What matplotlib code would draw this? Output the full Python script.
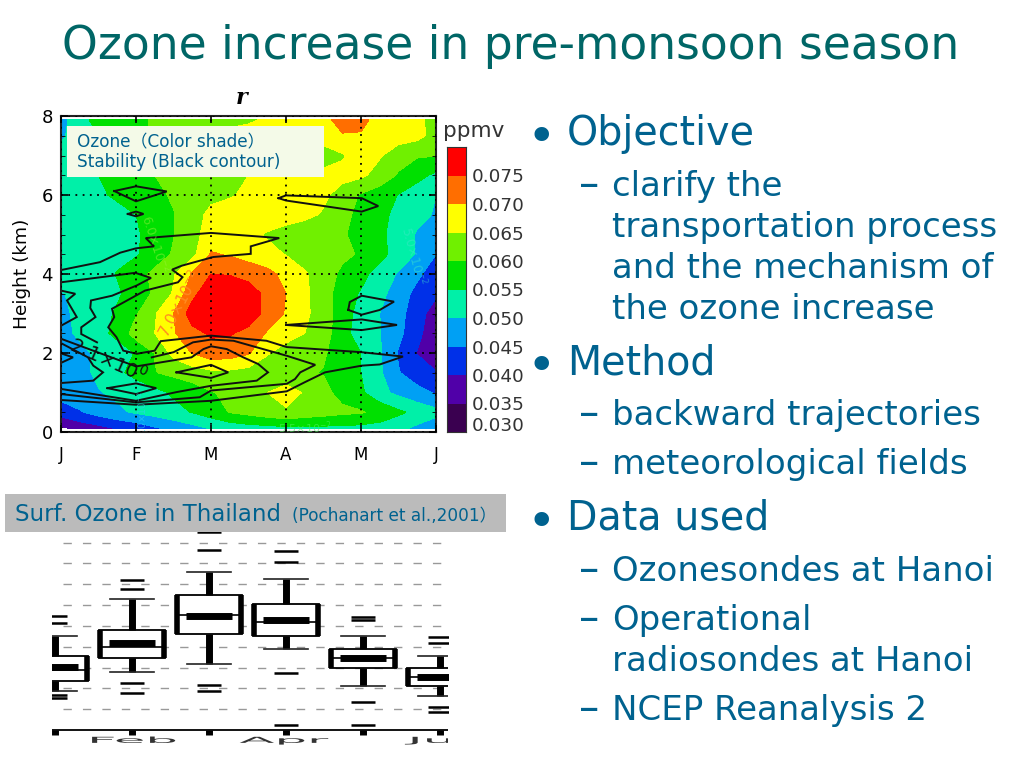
import numpy as np
import matplotlib
matplotlib.use("Agg")
import matplotlib.pyplot as plt
from matplotlib.colors import ListedColormap, BoundaryNorm
from matplotlib.patches import Rectangle
from matplotlib.patheffects import AbstractPathEffect
from matplotlib.transforms import Affine2D

W, H = 1024, 768
BLUE = "#00628F"
TEAL = "#006666"

# ozone shading (ppmv), columns every quarter of the month axis
months = ["J", "F", "M", "A", "M", "J"]
grid_x = [0, .25, .5, .75, 1, 1.25, 1.5, 1.75, 2, 2.25, 2.5, 2.75, 3, 3.25, 3.5, 3.75, 4, 4.25, 4.5, 4.75, 5]
heights = [0.1, 0.5, 1, 1.5, 2, 2.5, 3, 3.5, 4, 4.5, 5, 5.5, 6, 6.5, 7, 7.5, 7.9]
ozone = [
    [.034, .037, .0385, .0405, .042, .0445, .0465, .0485, .0505, .052, .053, .0535, .054, .054, .054, .054, .0535, .053, .0515, .049, .047],
    [.0425, .0445, .047, .049, .0507, .052, .0535, .0552, .0575, .0602, .0615, .063, .0642, .063, .062, .061, .0605, .0585, .056, .0535, .0515],
    [.047, .0485, .0497, .051, .052, .0535, .0557, .0575, .0597, .061, .0625, .065, .0675, .0645, .0612, .0585, .0558, .0515, .0487, .0465, .0445],
    [.046, .0485, .051, .054, .0565, .0598, .0612, .0625, .0638, .0638, .063, .0618, .061, .0605, .0598, .0575, .055, .0508, .0453, .0425, .0402],
    [.0445, .048, .0515, .0535, .0552, .0602, .0665, .0702, .073, .0725, .0705, .0655, .0625, .0615, .0605, .0578, .055, .0505, .0445, .0398, .0375],
    [.0475, .0515, .054, .0558, .0625, .065, .0695, .0735, .0757, .0755, .0735, .0695, .0675, .065, .0625, .0565, .053, .0502, .0465, .041, .0375],
    [.048, .052, .0535, .0555, .0595, .0645, .070, .0775, .080, .081, .078, .0735, .0695, .066, .0625, .0575, .053, .050, .0465, .0425, .037],
    [.0495, .052, .0532, .0545, .0565, .061, .0655, .0735, .079, .081, .078, .0735, .070, .066, .0622, .0575, .0545, .0515, .0475, .0435, .041],
    [.0525, .053, .0535, .0552, .058, .0612, .0645, .0705, .075, .0745, .073, .0715, .0685, .0655, .0625, .059, .0565, .053, .0495, .046, .0425],
    [.053, .053, .0535, .054, .0545, .0575, .0605, .0635, .0705, .0695, .068, .0665, .0648, .063, .0615, .061, .0595, .0565, .053, .0495, .045],
    [.053, .053, .0535, .054, .0545, .0565, .0598, .0635, .067, .068, .0665, .0645, .0632, .062, .061, .0605, .0585, .056, .053, .0495, .047],
    [.053, .053, .0535, .054, .055, .0565, .0598, .0625, .0665, .0675, .0685, .068, .067, .0662, .0645, .061, .059, .0565, .0535, .0515, .0495],
    [.0535, .054, .0545, .0555, .0575, .059, .0605, .062, .0635, .0645, .066, .067, .0675, .067, .066, .063, .0595, .0575, .0548, .0525, .050],
    [.054, .054, .055, .0565, .0585, .06, .061, .062, .063, .064, .065, .0655, .066, .0665, .067, .0665, .066, .063, .0595, .0565, .054],
    [.052, .054, .055, .0565, .0585, .06, .061, .062, .063, .064, .065, .066, .0665, .0655, .0615, .0645, .0672, .0655, .062, .0605, .0602],
    [.049, .053, .055, .057, .059, .0605, .062, .0635, .0645, .0655, .0665, .067, .0675, .068, .0685, .0695, .0695, .068, .0675, .0665, .063],
    [.048, .0535, .0565, .058, .059, .0605, .062, .063, .064, .0645, .0645, .0655, .0665, .067, .068, .0725, .0715, .068, .0665, .066, .0635],
]
levels = [.030, .035, .040, .045, .050, .055, .060, .065, .070, .075, .085]
bar_edges = [.030, .035, .040, .045, .050, .055, .060, .065, .070, .075, .080]
level_colors = ["#3A0050", "#5000A8", "#0030E8", "#00A0F4", "#00F0A8",
                "#00E000", "#70F000", "#FFFF00", "#FF6E00", "#FF0000"]

# stability contours, month position / km
line1_x = [0, .52, .79, 1.0, 1.24, 1.13, 2.0, 2.91, 2.53, 2.53, 2.03, 1.61, 1.48, 1.62, 1.56, 1.12, .68, .71, .63,
           .74, .83, 1.01, 1.25, 1.33, 2.0, 2.74, 3.01, 4.01, 4.56, 4.25, 4.01, 3.52, 3.25, 3.01, 2.0, 1.0, 0]
line1_y = [4.10, 4.30, 4.54, 4.65, 4.70, 4.91, 5.04, 4.91, 4.70, 4.51, 4.43, 4.21, 4.11, 3.92, 3.79, 3.58, 3.12, 2.91, 2.65,
           2.40, 2.06, 1.98, 2.06, 2.30, 2.44, 2.31, 2.15, 2.02, 1.91, 1.71, 1.68, 1.51, 1.26, 1.03, .79, .69, .81]
line2a_x = [0, .99, 1.2, 1.01, .68, .40, .39, .46, .27, .27, .48]
line2a_y = [3.79, 4.03, 3.90, 3.71, 3.45, 3.33, 3.14, 2.91, 2.65, 2.48, 2.27]
line2b_x = [1.21, 1.50, 1.76, 2.0, 2.30, 3.01, 3.39, 3.19, 3.12, 3.01, 2.0, 1.85, 1.0, 0]
line2b_y = [1.89, 2.02, 2.27, 2.34, 2.31, 1.93, 1.70, 1.51, 1.34, 1.22, 1.05, .88, .75, .96]
line3_x = [0, 1.0, 1.74, 1.90, 2.0, 2.21, 2.43, 2.63, 2.76, 2.61, 2.0, 1.54, 1.0, 0]
line3_y = [2.36, 1.66, 1.89, 2.10, 2.17, 2.10, 1.89, 1.72, 1.51, 1.30, 1.17, 1.01, .79, 1.09]
line4_x = [0, .36, .43, .56, .43, 0]
line4_y = [2.25, 1.89, 1.68, 1.51, 1.30, 1.24]
line5_x = [0, .19, .08, .21, 0]
line5_y = [3.58, 3.50, 3.33, 2.91, 2.69]
line6_x = [0, .16, 0]
line6_y = [1.99, 1.89, 1.75]
loop1_x = [.71, 1.0, 1.41, 1.0, .71]
loop1_y = [6.10, 6.22, 6.09, 5.84, 6.10]
loop2_x = [.89, 1, 1.1, 1, .89]
loop2_y = [5.52, 5.58, 5.52, 5.46, 5.52]
loop3_x = [2.9, 3, 4.01, 4.23, 4.01, 3.0, 2.9]
loop3_y = [5.92, 5.99, 5.92, 5.72, 5.58, 5.86, 5.92]
loop4_x = [1.54, 2, 2.23, 2, 1.54]
loop4_y = [1.51, 1.70, 1.51, 1.37, 1.51]
loop5_x = [.62, 1, 1.27, 1, .62]
loop5_y = [1.11, 1.23, 1.11, .96, 1.11]
loop6_x = [3, 4.01, 4.48, 4.01, 3]
loop6_y = [2.71, 2.85, 2.71, 2.58, 2.71]
loop7_x = [3.83, 3.85, 4.01, 4.44, 4.25, 4.01, 3.83]
loop7_y = [3.09, 3.29, 3.45, 3.30, 3.09, 2.97, 3.09]
contour_lines = [(line1_x, line1_y), (line2a_x, line2a_y), (line2b_x, line2b_y), (line3_x, line3_y),
                 (line4_x, line4_y), (line5_x, line5_y), (line6_x, line6_y), (loop1_x, loop1_y),
                 (loop2_x, loop2_y), (loop3_x, loop3_y), (loop4_x, loop4_y), (loop5_x, loop5_y),
                 (loop6_x, loop6_y), (loop7_x, loop7_y)]

# surface ozone box plot
box_names = ["Jan", "Feb", "Mar", "Apr", "May", "Jun"]
q1 = [23.7, 34.4, 45.9, 45.1, 29.9, 21.3]
q3 = [35.7, 48.0, 64.8, 60.3, 39.0, 29.9]
medians = [28.8, 40.0, 55.0, 51.7, 34.4, 25.6]
means = [30.4, 41.9, 54.9, 53.0, 34.4, 25.6]
whisker_lo = [18.9, 28.0, 31.8, 39.0, 21.3, 16.3]
whisker_hi = [45.3, 62.7, 75.7, 72.5, 45.3, 35.7]
fliers = [[51.2, 54.7, 16.8, 15.2], [67.7, 72.0, 22.4, 17.6], [86.4, 94.9, 21.6, 18.7],
          [80.8, 85.9, 27.5, 2.4], [52.8, 54.4, 13.3, 2.4], [41.9, 44.8, 10.9, 8.8]]
box_grid = [10, 20, 30, 40, 50, 60, 70, 80, 90]
box_ticks = [1, 3, 5]
box_tick_labels = ["Feb", "Apr", "Jul"]


class Squash(AbstractPathEffect):
    # the scanned axis labels in the picture are stretched flat
    def __init__(self, sx, sy):
        super().__init__()
        self.sx, self.sy = sx, sy

    def draw_path(self, renderer, gc, tpath, affine, rgbFace=None):
        w = tpath.get_extents().width
        t = Affine2D().translate(-w / 2, 0).scale(self.sx, self.sy).translate(w / 2, 0)
        renderer.draw_path(gc, tpath, t + affine, rgbFace)


def px_axes(left, top, right, bottom):
    return fig.add_axes([left / W, 1 - bottom / H, (right - left) / W, (bottom - top) / H])


def put(x, y, s, **kw):
    fig.text(x / W, 1 - y / H, s, **kw)


plt.rcParams["font.family"] = ["DejaVu Sans", "Noto Sans CJK JP"]
fig = plt.figure(figsize=(W / 100, H / 100), dpi=100)

# --- contour panel
ax = px_axes(61, 116, 436, 432)
cmap = ListedColormap(level_colors)
norm = BoundaryNorm(levels, cmap.N)
ax.contourf(grid_x, heights, ozone, levels=levels, cmap=cmap, norm=norm)
for lx, ly in contour_lines:
    ax.plot(lx, ly, color="#111111", lw=1.4, solid_joinstyle="miter")
ax.set_xlim(0, 5)
ax.set_ylim(0, 8)
ax.set_xticks(range(6))
ax.set_xticklabels(months, fontsize=12)
ax.set_yticks([0, 2, 4, 6, 8])
ax.set_yticks(np.arange(0, 8.5, 0.5), minor=True)
ax.tick_params(axis="y", labelsize=13, direction="in", length=5, width=1.2, right=True, pad=6)
ax.tick_params(axis="y", which="minor", direction="in", length=3, right=True)
ax.tick_params(axis="x", direction="in", length=5, width=1.2, top=True, pad=10)
ax.grid(True, color="black", ls=(0, (1, 3)), lw=1.3)
ax.set_axisbelow(False)
for s in ax.spines.values():
    s.set_linewidth(1.5)
    s.set_color("#222222")
ax.set_ylabel("Height (km)", fontsize=13.3, labelpad=7)

ax.text(0.63, 1.82, r"$2.1{\times}10^{0}$", fontsize=14, rotation=-24, ha="center", va="center", color="#111111")
ax.text(1.58, 3.25, r"$7.0{\times}10^{-2}$", fontsize=11, rotation=62, ha="center", va="center", color="#FF8A20")
ax.text(1.25, 4.75, r"$6.0{\times}10^{-2}$", fontsize=9, rotation=-72, ha="center", va="center", color="#A0F040", alpha=0.5)
ax.text(4.7, 4.45, r"$5.0{\times}10^{-2}$", fontsize=9, rotation=-75, ha="center", va="center", color="#40E8C8", alpha=0.5)
ax.text(1.08, 0.45, r"$4.0{\times}10^{-2}$", fontsize=7, rotation=90, ha="center", va="center", color="#30D0F0", alpha=0.6, clip_on=True)
ax.text(3.25, 0.12, r"$5.5{\times}10^{-2}$", fontsize=8, ha="center", va="center", color="#50F060", alpha=0.6)

fig.patches.append(Rectangle((67 / W, 1 - 177 / H), 257 / W, 51 / H, transform=fig.transFigure,
                             facecolor="#F4FAE8", edgecolor="none", zorder=5))
put(77, 147, "Ozone（Color shade）", fontsize=12.2, color=BLUE, zorder=6)
put(77, 167, "Stability (Black contour)", fontsize=12.2, color=BLUE, zorder=6)
put(242, 104, "r", fontsize=16, color="black", family="DejaVu Serif", style="italic", weight="bold", ha="center")

# --- colour bar
cax = px_axes(447, 147, 466, 432)
cax.pcolormesh([0, 1], bar_edges, np.array(bar_edges[:-1]).reshape(-1, 1) + 0.001, cmap=cmap, norm=norm)
cax.set_xticks([])
cax.set_yticks([])
for s in cax.spines.values():
    s.set_linewidth(0.8)
    s.set_color("#333333")
put(443, 137, "ppmv", fontsize=15.5, color="#333333")
for lv in bar_edges[1:-1]:
    cax.text(1.3, lv, f"{lv:.3f}", fontsize=13.2, color="#333333", va="center_baseline", ha="left")
cax.text(1.3, bar_edges[0] - 0.0005, f"{bar_edges[0]:.3f}", fontsize=13.2, color="#333333", va="bottom", ha="left")

# --- box plot panel
bx = px_axes(52.3, 532.3, 447.7, 746.7)
stats = []
for i in range(6):
    stats.append({"label": box_names[i], "q1": q1[i], "q3": q3[i], "med": medians[i], "mean": means[i],
                  "whislo": whisker_lo[i], "whishi": whisker_hi[i], "fliers": fliers[i]})
pos = np.arange(6)
bx.bxp(stats, positions=pos, widths=0.87, showmeans=True, manage_ticks=False, patch_artist=True,
       boxprops=dict(facecolor="white", edgecolor="black", lw=1.3),
       medianprops=dict(color="black", lw=1.2),
       whiskerprops=dict(color="black", lw=5, solid_capstyle="butt"),
       capprops=dict(color="#222222", lw=1.2),
       capwidths=0.56,
       meanprops=dict(marker="_", markersize=33, mew=5, color="black", markeredgecolor="black"),
       flierprops=dict(marker="_", markersize=17, mew=1.8, markeredgecolor="black"))
bx.vlines(pos - 0.42, q1, q3, color="black", lw=4, capstyle="butt")
bx.vlines(pos + 0.42, q1, q3, color="black", lw=4, capstyle="butt")
bx.hlines(box_grid, 0.11, 5.04, color="#999999", lw=1, ls=(0, (6, 8)), zorder=0)
bx.axhline(0, color="black", lw=1.3)
bx.vlines(pos, -2.5, 0, color="black", lw=5, capstyle="butt")
bx.set_xlim(-0.035, 5.1)
bx.set_ylim(-8, 94.9)
bx.axis("off")
for xt, name in zip(box_ticks, box_tick_labels):
    t = bx.text(xt - 0.03, -7.6, name, fontsize=10, color="#333333", ha="center", va="bottom", clip_on=True)
    t.set_path_effects([Squash(3.7, 0.6)])

fig.patches.append(Rectangle((5 / W, 1 - 532 / H), 501 / W, 38 / H, transform=fig.transFigure,
                             facecolor="#BBBBBB", edgecolor="none", zorder=5))
put(15, 521, "Surf. Ozone in Thailand", fontsize=16.5, color=BLUE, zorder=6)
put(292, 521, "(Pochanart et al.,2001）", fontsize=12.2, color=BLUE, zorder=6)

# --- title and bullet text
put(62, 59, "Ozone increase in pre-monsoon season", fontsize=32.9, color=TEAL)

headings = [("Objective", 145), ("Method", 374), ("Data used", 530)]
for s, y in headings:
    put(527, y + 7, "•", fontsize=36, color=BLUE)
    put(567, y, s, fontsize=28.5, color=BLUE)

sub_lines = [(True, "clarify the", 196), (False, "transportation process", 237), (False, "and the mechanism of", 278),
             (False, "the ozone increase", 319), (True, "backward trajectories", 425),
             (True, "meteorological fields", 474), (True, "Ozonesondes at Hanoi", 581),
             (True, "Operational", 630), (False, "radiosondes at Hanoi", 671), (True, "NCEP Reanalysis 2", 720)]
for dash, s, y in sub_lines:
    if dash:
        put(579, y + 1, "–", fontsize=29, color=BLUE)
    put(612, y, s, fontsize=24.5, color=BLUE)

fig.savefig("out.png", dpi=100)
